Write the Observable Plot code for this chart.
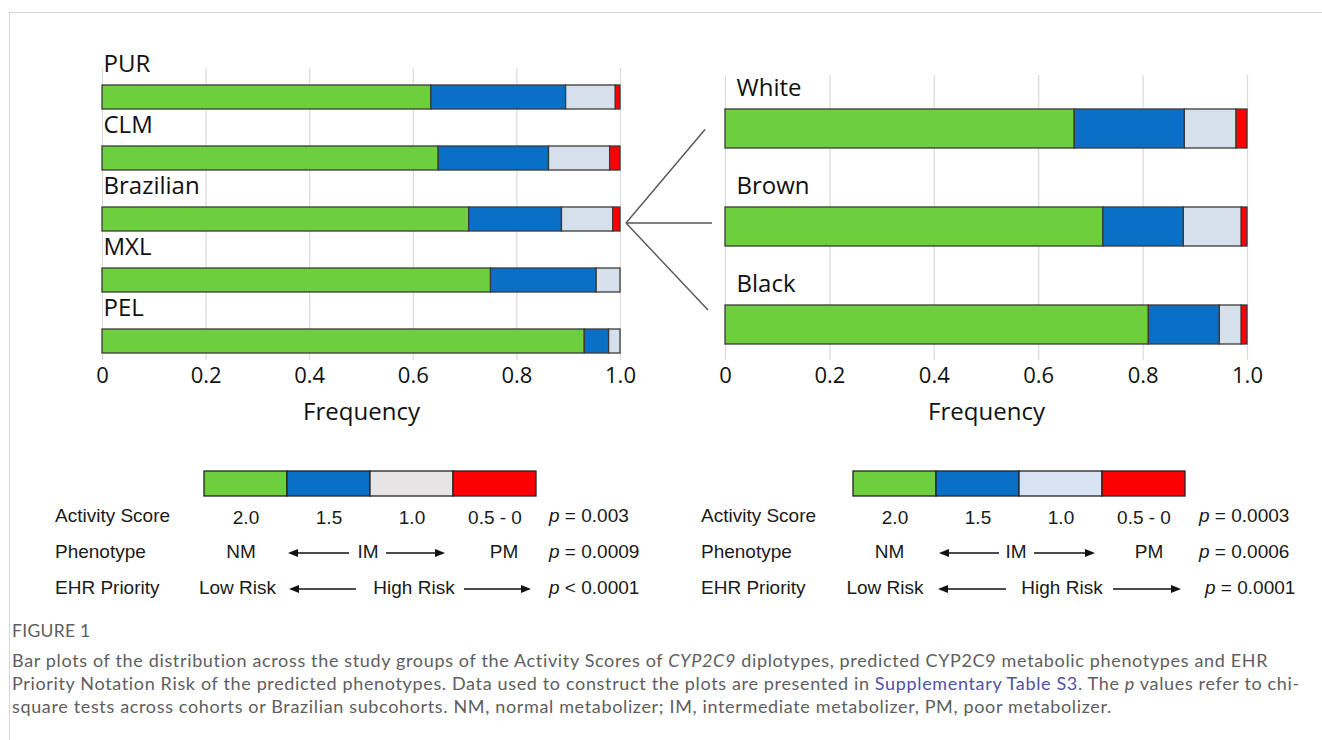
<!DOCTYPE html>
<html>
<head>
<meta charset="utf-8">
<script src="https://cdn.jsdelivr.net/npm/d3@7"></script>
<script src="https://cdn.jsdelivr.net/npm/@observablehq/plot@0.6"></script>
<style>
html,body{margin:0;padding:0;background:#fff;}
#page{position:relative;width:1322px;height:740px;overflow:hidden;background:#fff;}
#frame{position:absolute;left:9px;top:12px;width:1400px;height:800px;border-left:1px solid #d4d4d4;border-top:1px solid #d4d4d4;}
.plot{position:absolute;top:0;}
.t{position:absolute;font-family:"Liberation Sans",Arial,sans-serif;font-size:19px;color:#1a1a1a;white-space:nowrap;line-height:24px;height:24px;}
.c{transform:translateX(-50%);}
.cap{position:absolute;left:12px;font-family:Lato,sans-serif;color:#5e5e5e;white-space:nowrap;}
#figt{top:619px;font-size:17.5px;line-height:23px;letter-spacing:0.3px;}
#capt{top:649px;font-size:18px;line-height:23px;letter-spacing:0.65px;}
#capt a{color:#5151a6;text-decoration:none;}
#ov{position:absolute;left:0;top:0;}
</style>
</head>
<body>
<div id="page">
  <div id="frame"></div>
  <div id="plots"></div>
  <svg id="ov" width="1322" height="740"></svg>
  <div id="texts"></div>
  <div class="cap" id="figt">FIGURE 1</div>
  <div class="cap" id="capt">Bar plots of the distribution across the study groups of the Activity Scores of <i>CYP2C9</i> diplotypes, predicted CYP2C9 metabolic phenotypes and EHR<br>Priority Notation Risk of the predicted phenotypes. Data used to construct the plots are presented in <a>Supplementary Table S3</a>. The <i>p</i> values refer to chi-<br>square tests across cohorts or Brazilian subcohorts. NM, normal metabolizer; IM, intermediate metabolizer, PM, poor metabolizer.</div>
</div>
<script>
// ---------- data ----------
const scores = ["2.0", "1.5", "1.0", "0.5 - 0"];
const cohorts = ["PUR", "CLM", "Brazilian", "MXL", "PEL"];
const cohortAS20 = [0.635, 0.649, 0.708, 0.750, 0.931];
const cohortAS15 = [0.260, 0.213, 0.179, 0.204, 0.047];
const cohortAS10 = [0.096, 0.118, 0.099, 0.046, 0.022];
const cohortAS05 = [0.009, 0.020, 0.014, 0.000, 0.000];
const subcohorts = ["White", "Brown", "Black"];
const subAS20 = [0.669, 0.724, 0.811];
const subAS15 = [0.211, 0.154, 0.136];
const subAS10 = [0.099, 0.111, 0.042];
const subAS05 = [0.021, 0.011, 0.011];
const ticks = [0, 0.2, 0.4, 0.6, 0.8, 1.0];
const tickLabels = ["0", "0.2", "0.4", "0.6", "0.8", "1.0"];
const barColors = ["#6dce3e", "#0a6fc6", "#d6dfec", "#ff0000"];
const legendColorsLeft = ["#6dce3e", "#0a6fc6", "#e6e4e4", "#ff0000"];
const legendColorsRight = ["#6dce3e", "#0a6fc6", "#d9e3f3", "#ff0000"];
const rowLabels = ["Activity Score", "Phenotype", "EHR Priority"];
const phenoLabels = ["NM", "IM", "PM"];
const riskLabels = ["Low Risk", "High Risk"];
const pLeft = [["=", "0.003"], ["=", "0.0009"], ["<", "0.0001"]];
const pRight = [["=", "0.0003"], ["=", "0.0006"], ["=", "0.0001"]];

const chartFont = "'Open Sans', sans-serif";

function rowsOf(groups, series) {
  const rows = [];
  groups.forEach((g, i) => scores.forEach((s, j) => {
    if (series[j][i] > 0) rows.push({group: g, score: s, value: series[j][i]});
  }));
  return rows;
}

function panel(groups, series, o) {
  return Plot.plot({
    width: o.width, height: 440,
    marginLeft: o.ml, marginRight: o.mr, marginTop: o.mt, marginBottom: 80,
    x: {domain: [0, 1]},
    y: {type: "band", domain: groups, range: o.yrange, paddingInner: 0.6, paddingOuter: 0, axis: null},
    color: {domain: scores, range: barColors},
    style: {fontFamily: chartFont, fontSize: "21px", color: "#111", background: "transparent", overflow: "visible"},
    marks: [
      Plot.ruleX(ticks, {stroke: "#dadada", strokeWidth: 1.2}),
      Plot.barX(rowsOf(groups, series), Plot.stackX({x: "value", y: "group", fill: "score", stroke: "#3a3a3a", strokeWidth: 1.3})),
      Plot.text(groups, {x: 0, y: d => d, text: d => d, textAnchor: "start", lineAnchor: "bottom", dx: o.labelDx, dy: o.labelDy, fontSize: 24, fill: "#111"}),
      Plot.axisX({ticks, tickFormat: d => tickLabels[ticks.indexOf(d)], tickSize: 0, tickPadding: 7, fontSize: 22,
        label: "Frequency", labelAnchor: "center", labelOffset: 59, labelArrow: "none"})
    ]
  });
}

const left = panel(cohorts, [cohortAS20, cohortAS15, cohortAS10, cohortAS05],
  {width: 660, ml: 102, mr: 40, mt: 68, yrange: [83, 355], labelDx: 1, labelDy: -26});
const right = panel(subcohorts, [subAS20, subAS15, subAS10, subAS05],
  {width: 640, ml: 65, mr: 53, mt: 75, yrange: [108, 345], labelDx: 11, labelDy: -33});

// enlarge the axis label ("Frequency") text
[left, right].forEach(p => {
  d3.select(p).selectAll("text").filter(function () { return this.textContent === "Frequency"; })
    .attr("font-size", 24);
});

function legend(colors, o) {
  return Plot.plot({
    width: o.width, height: 500, marginTop: 471, marginBottom: 4, marginLeft: o.ml, marginRight: o.mr,
    x: {type: "band", domain: scores, padding: 0, axis: null},
    color: {domain: scores, range: colors},
    style: {fontFamily: "'Liberation Sans', Arial, sans-serif", fontSize: "19px", color: "#1a1a1a", background: "transparent", overflow: "visible"},
    marks: [
      Plot.cell(scores, {x: d => d, fill: d => d, stroke: "#222", strokeWidth: 1.3}),
      Plot.text(scores, {x: d => d, text: d => d, frameAnchor: "bottom", dy: 21, lineAnchor: "middle", fontSize: 19, fill: "#1a1a1a"})
    ]
  });
}
const legL = legend(legendColorsLeft, {width: 660, ml: 204, mr: 124});
const legR = legend(legendColorsRight, {width: 662, ml: 193, mr: 137});

const host = document.getElementById("plots");
[[left, 0], [right, 660], [legL, 0], [legR, 660]].forEach(([p, x]) => {
  p.classList.add("plot"); p.style.left = x + "px"; host.appendChild(p);
});

// ---------- connector lines from the Brazilian bar to the subcohort panel ----------
const ov = d3.select("#ov");
const lx = left.scale("x"), ly = left.scale("y");
const rx = right.scale("x"), ry = right.scale("y");
const apexX = lx.apply(1) + 6;
const apexY = ly.apply("Brazilian") + ly.bandwidth / 2 + 4;
const rx0 = 660 + rx.apply(0);
const ends = [
  [rx0 - 20, ry.apply("White") + ry.bandwidth / 2 + 1],
  [rx0 - 13, apexY],
  [rx0 - 17, ry.apply("Black") + 5]
];
ends.forEach(([x, y]) => ov.append("line").attr("x1", apexX).attr("y1", apexY).attr("x2", x).attr("y2", y)
  .attr("stroke", "#555").attr("stroke-width", 1.4));

// ---------- legend rows ----------
const texts = document.getElementById("texts");
function addText(str, x, y, center, html) {
  const d = document.createElement("div");
  d.className = "t" + (center ? " c" : "");
  d.style.left = x + "px"; d.style.top = (y - 12) + "px";
  if (html) d.innerHTML = str; else d.textContent = str;
  texts.appendChild(d);
}
function arrow(x1, x2, y) {
  const dir = Math.sign(x2 - x1);
  ov.append("line").attr("x1", x1).attr("y1", y).attr("x2", x2 - dir * 8).attr("y2", y).attr("stroke", "#111").attr("stroke-width", 1.5);
  ov.append("path").attr("d", `M${x2},${y} L${x2 - dir * 10},${y - 4} L${x2 - dir * 10},${y + 4} Z`).attr("fill", "#111");
}
const rowY = [516, 552, 588];
function legendRows(o, pv) {
  rowLabels.forEach((s, i) => addText(s, o.label, rowY[i], false));
  pv.forEach(([op, v], i) => addText(`<i>p</i> ${op} ${v}`, o.p[i], rowY[i], false, true));
  phenoLabels.forEach((s, i) => addText(s, o.pheno[i], rowY[1], true));
  riskLabels.forEach((s, i) => addText(s, o.risk[i], rowY[2], true));
  o.arrows.forEach(([a, b, r]) => arrow(a, b, rowY[r] + 1));
}
legendRows({label: 55, p: [549, 549, 549], pheno: [241, 368, 504], risk: [237.5, 414],
  arrows: [[349, 288, 1], [386, 445, 1], [356, 289, 2], [464, 531, 2]]}, pLeft);
legendRows({label: 701, p: [1199, 1199, 1205], pheno: [889.5, 1016, 1149], risk: [885, 1062],
  arrows: [[999, 939, 1], [1034, 1095, 1], [1006, 938, 2], [1113, 1181, 2]]}, pRight);
</script>
</body>
</html>
